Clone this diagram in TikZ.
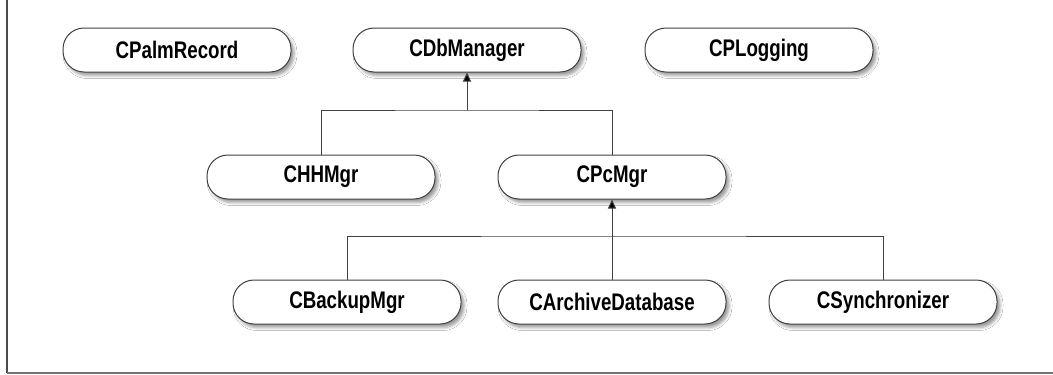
\documentclass[tikz,border=0pt]{standalone}
\usepackage{fontspec}
\newfontfamily\labfont[FakeStretch=0.78]{Liberation Sans}
\usetikzlibrary{arrows.meta,shadows.blur}
\begin{document}
\begin{tikzpicture}[x=1pt,y=-1pt,
  cls/.style={draw=black!75, line width=1pt, fill=white, rounded corners=21pt,
    minimum width=228pt, minimum height=44pt, inner sep=0pt,
    font=\labfont\bfseries\fontsize{24}{27}\selectfont,
    blur shadow={shadow xshift=3pt, shadow yshift=-3.5pt, shadow blur radius=3pt, shadow opacity=40}},
  wire/.style={draw=black!75, line width=1pt},
  inh/.style={wire, -{Triangle[width=8pt,length=9pt,fill=black]}}]
\useasboundingbox (0,0) rectangle (1053,375);
\fill[white] (0,0) rectangle (1053,375);
% frame
\draw[black!70, line width=1.8pt] (7,0) -- (7,373);
\draw[black!55, line width=1.4pt] (7,373) -- (1053,373);
% nodes
\node[cls] (palm) at (177,50) {CPalmRecord};
\node[cls] (db) at (467,50) {CDbManager};
\node[cls] (log) at (759,50) {CPLogging};
\node[cls] (hh) at (321,177) {CHHMgr};
\node[cls] (pc) at (612,177) {CPcMgr};
\node[cls] (bk) at (347,302) {CBackupMgr};
\node[cls] (ar) at (612,302) {CArchiveDatabase};
\node[cls] (sy) at (883,302) {CSynchronizer};
% junctions
\coordinate (j1) at (467,110);
\coordinate (j2) at (612,236);
% connectors
\draw[wire] (hh.north) |- (j1) -| (pc.north);
\draw[inh] (j1) -- (db.south);
\draw[wire] (bk.north) |- (j2) -| (sy.north);
\draw[inh] (ar.north) -- (pc.south);
\end{tikzpicture}
\end{document}
